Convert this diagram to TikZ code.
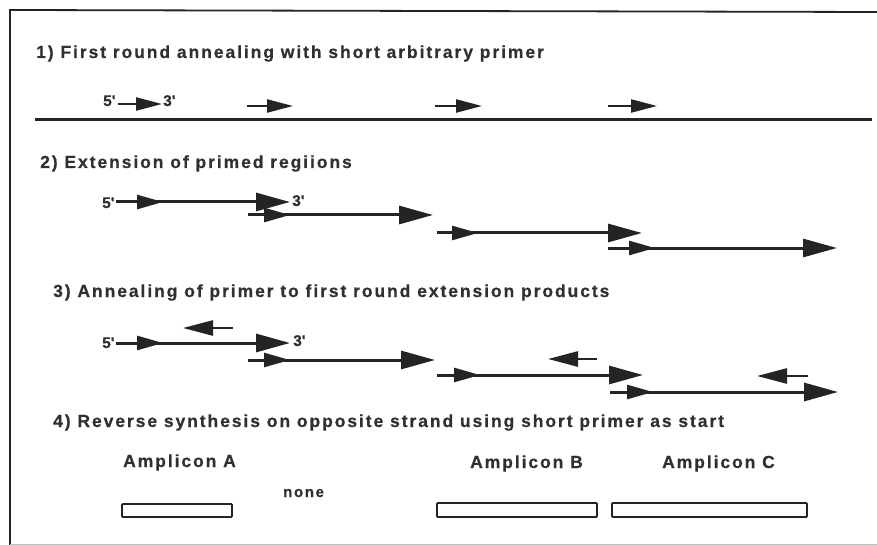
\documentclass[tikz,border=0pt]{standalone}
\usepackage{fontspec}
\setmainfont{Liberation Sans}
\newfontfamily\spacedsans{Liberation Sans}[LetterSpace=11,FakeBold=0.5]
\newfontfamily\endsans{Liberation Sans}[FakeBold=0.5]
\usetikzlibrary{arrows.meta}
\definecolor{ink}{RGB}{36,36,36}
\definecolor{txt}{RGB}{48,48,48}

\tikzset{
  x=1pt, y=-1pt,
  heading/.style={anchor=base west, inner sep=0pt, text=txt,
    font=\spacedsans\bfseries\fontsize{17.5}{20}\selectfont},
  endlabel/.style={anchor=base west, inner sep=0pt, text=txt,
    font=\endsans\bfseries\fontsize{15.5}{18}\selectfont},
  template/.style={draw=ink, line width=3pt},
  primertail/.style={draw=ink, line width=2.2pt,
    -{Triangle[length=26pt,width=13pt]}},
  primerhead/.style={draw=ink, line width=2.6pt,
    -{Triangle[length=26pt,width=14pt]}},
  strandline/.style={draw=ink, line width=3pt,
    -{Triangle[length=34pt,width=18pt]}},
  revprimer/.style={draw=ink, line width=2.6pt,
    -{Triangle[length=30pt,width=15pt]}},
  ampbox/.style={draw=ink, line width=1.8pt, rounded corners=1pt},
  frame/.style={draw=ink, line width=1.8pt}
}

\begin{document}
\begin{tikzpicture}
  \useasboundingbox[fill=white] (0,0) rectangle (877,545);

  % frame
  \draw[frame] (10,545) -- (10,10) -- (877,12);
  \draw[black!25, line width=0.8pt] (10,544) -- (877,544);

  % ---------- step 1 ----------
  \node[heading] (h1) at (36,58) {1) First round annealing with short arbitrary primer};
  \coordinate (t0) at (35,120);
  \coordinate (t1) at (872,120);
  \draw[template] (t0) -- (t1);

  \node[endlabel] (f1) at (103,106) {5'};
  \coordinate (p1s) at (118,104);  \coordinate (p1e) at (162,104);
  \draw[primertail] (p1s) -- (p1e);
  \node[endlabel] (r1) at (163,106) {3'};
  \coordinate (p2s) at (247,106);  \coordinate (p2e) at (293,106);
  \coordinate (p3s) at (435,106);  \coordinate (p3e) at (482,106);
  \coordinate (p4s) at (608,106);  \coordinate (p4e) at (657,106);
  \draw[primertail] (p2s) -- (p2e);
  \draw[primertail] (p3s) -- (p3e);
  \draw[primertail] (p4s) -- (p4e);

  % ---------- step 2 ----------
  \node[heading] (h2) at (40,168) {2) Extension of primed regiions};
  \node[endlabel] (f2) at (102,208) {5'};
  \node[endlabel] (r2) at (292,206) {3'};
  % strand: start, primer tip, end
  \coordinate (a2s) at (116,202); \coordinate (a2p) at (163,202); \coordinate (a2e) at (290,202);
  \coordinate (b2s) at (248,215); \coordinate (b2p) at (290,215); \coordinate (b2e) at (433,215);
  \coordinate (c2s) at (437,233); \coordinate (c2p) at (478,233); \coordinate (c2e) at (642,233);
  \coordinate (d2s) at (608,248); \coordinate (d2p) at (655,248); \coordinate (d2e) at (837,248);
  \foreach \s in {a2,b2,c2,d2}{
    \draw[strandline] (\s s) -- (\s e);
    \draw[primerhead] (\s s) -- (\s p);
  }

  % ---------- step 3 ----------
  \node[heading] (h3) at (53,297) {3) Annealing of primer to first round extension products};
  \node[endlabel] (f3) at (102,348) {5'};
  \node[endlabel] (r3) at (293,346) {3'};
  \coordinate (a3s) at (116,343); \coordinate (a3p) at (163,343); \coordinate (a3e) at (290,343);
  \coordinate (b3s) at (248,360); \coordinate (b3p) at (290,360); \coordinate (b3e) at (435,360);
  \coordinate (c3s) at (437,375); \coordinate (c3p) at (480,375); \coordinate (c3e) at (643,375);
  \coordinate (d3s) at (610,392); \coordinate (d3p) at (653,392); \coordinate (d3e) at (838,392);
  \foreach \s in {a3,b3,c3,d3}{
    \draw[strandline] (\s s) -- (\s e);
    \draw[primerhead] (\s s) -- (\s p);
  }
  % primers annealed to the extension products, pointing back
  \coordinate (q1s) at (233,328); \coordinate (q1e) at (183,328);
  \coordinate (q2s) at (597,359); \coordinate (q2e) at (548,359);
  \coordinate (q3s) at (808,376); \coordinate (q3e) at (757,376);
  \draw[revprimer] (q1s) -- (q1e);
  \draw[revprimer] (q2s) -- (q2e);
  \draw[revprimer] (q3s) -- (q3e);

  % ---------- step 4 ----------
  \node[heading] (h4) at (53,427) {4) Reverse synthesis on opposite strand using short primer as start};
  \node[heading] (la) at (123,467) {Amplicon A};
  \node[heading] (lb) at (470,468) {Amplicon B};
  \node[heading] (lc) at (662,468) {Amplicon C};
  \node[heading, font=\spacedsans\bfseries\fontsize{15}{18}\selectfont] (ln) at (283,497) {none};
  \draw[ampbox] (122,504) rectangle (232,517);
  \draw[ampbox] (437,503) rectangle (597,517);
  \draw[ampbox] (612,503) rectangle (807,517);
\end{tikzpicture}
\end{document}
